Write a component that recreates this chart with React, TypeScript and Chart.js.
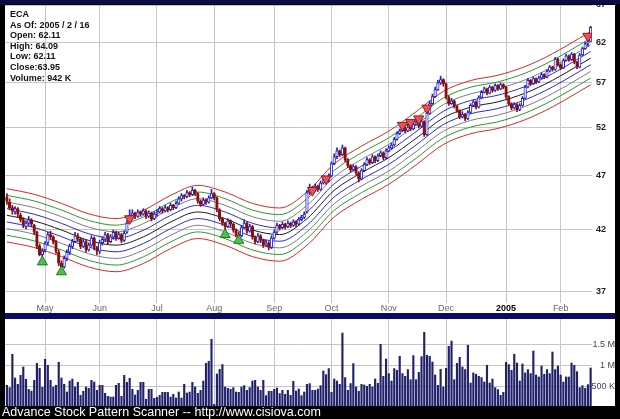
import React, { useEffect, useRef } from 'react';
import { Chart, registerables } from 'chart.js';

Chart.register(...registerables);

// ---- axis labels ----
const monthTickIdx = [14, 34, 55, 76, 98, 119, 140, 161, 183, 203];
const monthLabels = ['May', 'Jun', 'Jul', 'Aug', 'Sep', 'Oct', 'Nov', 'Dec', '2005', 'Feb'];
const priceTicks = [37, 42, 47, 52, 57, 62, 67];
const volumeTicks = [500, 1000, 1500];
const volumeTickLabels = ['500 K', '1 M', '1.5 M'];

// ---- daily OHLC (trading-day index 0..214) ----
const opens = [
  45.0,44.5,44.0,43.6,43.9,43.3,42.9,42.3,42.6,42.9,
  42.4,41.8,40.6,39.9,40.3,40.9,41.6,41.4,41.0,40.1,
  39.2,38.9,39.6,40.1,40.6,41.0,41.5,41.2,40.6,41.0,
  40.3,40.7,41.3,40.5,40.2,40.9,41.2,41.6,41.0,41.4,
  41.8,41.3,41.6,41.1,41.8,42.7,43.3,43.5,43.2,43.6,
  43.4,43.7,43.2,43.5,43.0,43.4,43.6,43.9,43.7,44.0,
  43.8,44.2,44.0,44.4,44.8,45.1,45.0,45.4,45.2,45.6,
  45.3,44.6,44.3,44.7,44.5,44.9,45.3,44.9,43.8,43.0,
  42.6,42.3,42.8,42.5,42.0,41.6,41.5,42.2,42.6,41.9,
  42.3,41.4,41.0,41.5,41.1,40.7,40.9,40.5,41.3,41.8,
  42.4,42.2,42.5,42.3,42.6,42.4,42.7,42.5,42.9,43.1,
  43.6,45.4,45.9,45.6,46.0,45.7,46.3,46.8,46.5,47.0,
  48.2,48.9,49.5,49.1,49.8,48.6,48.0,47.6,47.9,47.3,
  46.7,47.5,48.1,48.6,48.3,48.9,48.5,49.0,49.3,48.8,
  49.5,49.8,50.1,50.7,51.3,51.6,51.9,51.6,52.0,51.8,
  52.3,52.5,52.1,52.6,51.2,53.5,54.6,55.4,56.2,57.0,
  57.4,56.9,55.3,54.6,54.9,54.3,53.8,53.1,53.4,52.9,
  53.6,54.4,54.8,54.2,55.3,55.9,56.3,55.8,56.5,56.1,
  56.7,56.3,56.8,56.5,55.4,54.6,54.1,54.5,53.9,54.4,
  55.2,56.5,57.3,56.9,57.5,57.1,57.6,58.0,57.7,58.4,
  58.9,58.6,59.9,59.2,58.8,59.7,60.3,59.8,60.5,59.5,
  58.9,60.4,61.2,61.8,62.11,
];
const highs = [
  45.3,44.8,44.2,44.1,44.0,43.5,43.1,42.8,43.2,43.0,
  42.5,41.9,40.8,40.4,41.0,41.8,41.9,41.5,41.1,40.3,
  39.4,39.8,40.3,40.8,41.2,41.8,41.7,41.3,41.2,41.1,
  40.9,41.5,41.4,40.6,41.1,41.4,41.8,41.7,41.6,42.0,
  41.9,41.8,41.7,41.9,42.8,43.8,43.8,43.6,43.8,43.7,
  43.9,43.8,43.7,43.6,43.6,43.8,44.1,44.0,44.2,44.1,
  44.4,44.3,44.6,45.0,45.3,45.2,45.6,45.5,45.9,45.7,
  45.4,44.7,44.9,44.8,45.1,45.7,45.4,45.0,43.9,43.1,
  42.7,43.0,42.9,42.6,42.1,41.8,42.4,42.9,42.7,42.5,
  42.4,41.5,41.7,41.6,41.2,41.1,41.0,41.5,42.0,42.6,
  42.5,42.7,42.6,42.8,42.7,42.9,42.8,43.1,43.3,43.6,
  45.6,46.2,46.0,46.2,46.1,46.5,47.0,46.9,47.2,48.4,
  49.2,49.8,49.6,50.1,49.9,48.7,48.1,48.1,48.0,47.4,
  47.7,48.3,48.8,48.7,49.1,49.0,49.2,49.5,49.4,49.7,
  50.0,50.3,50.9,51.5,51.8,52.2,52.0,52.3,52.4,52.5,
  52.8,52.9,52.8,52.7,53.8,54.9,55.7,56.5,57.3,57.8,
  57.5,57.0,55.5,55.2,55.0,54.4,53.9,53.7,53.5,53.8,
  54.6,55.0,54.9,55.5,56.1,56.5,56.4,56.7,56.6,56.9,
  56.8,57.0,56.9,56.6,55.5,54.7,54.7,54.6,54.6,55.4,
  56.7,57.5,57.4,57.7,57.6,57.8,58.2,58.1,58.6,59.1,
  59.0,60.1,60.0,59.3,59.9,60.5,60.4,60.7,60.6,59.6,
  60.6,61.4,62.0,62.3,64.09,
];
const lows = [
  44.3,43.8,43.4,43.4,43.1,42.7,42.2,42.1,42.4,42.3,
  41.6,40.4,39.8,39.6,40.1,40.7,41.2,40.8,40.0,39.0,
  38.8,38.8,39.4,39.9,40.4,40.9,41.0,40.4,40.5,40.1,
  40.2,40.6,40.3,39.9,40.0,40.7,41.0,40.8,40.9,41.2,
  41.1,41.2,40.9,41.0,41.7,42.6,43.0,43.0,43.1,43.2,
  43.3,43.0,43.1,42.8,42.9,43.2,43.5,43.5,43.6,43.6,
  43.7,43.8,43.9,44.3,44.6,44.8,44.9,45.0,45.1,45.1,
  44.4,44.1,44.2,44.3,44.4,44.8,44.7,43.6,42.8,42.4,
  42.0,42.2,42.3,41.8,41.4,41.3,41.4,42.1,41.7,41.8,
  41.2,40.8,40.9,40.9,40.5,40.6,40.3,40.4,41.2,41.7,
  42.0,42.1,42.1,42.2,42.2,42.3,42.3,42.4,42.8,43.0,
  43.5,45.2,45.4,45.5,45.5,45.6,46.2,46.3,46.4,46.9,
  48.1,48.7,48.9,49.0,48.4,47.8,47.4,47.5,47.1,46.4,
  46.6,47.4,48.0,48.1,48.2,48.3,48.4,48.9,48.6,48.7,
  49.4,49.7,50.0,50.6,51.2,51.5,51.4,51.5,51.6,51.7,
  52.2,51.9,52.0,51.0,51.1,53.4,54.5,55.3,56.1,56.8,
  56.6,55.1,54.4,54.5,54.1,53.6,52.9,53.0,52.7,52.8,
  53.5,54.3,54.0,54.1,55.2,55.8,55.6,55.7,55.9,56.0,
  56.1,56.2,56.3,55.2,54.4,53.9,54.0,53.7,53.8,54.3,
  55.1,56.4,56.7,56.8,56.9,57.0,57.5,57.5,57.6,58.3,
  58.4,58.5,59.0,58.6,58.7,59.6,59.6,59.7,59.3,58.7,
  58.8,60.3,61.1,61.5,62.11,
];
const closes = [
  44.6,44.0,43.7,43.9,43.4,42.9,42.4,42.6,42.9,42.5,
  41.8,40.6,39.9,40.2,40.8,41.6,41.4,41.0,40.2,39.2,
  38.9,39.6,40.1,40.6,41.0,41.5,41.2,40.6,41.0,40.3,
  40.7,41.3,40.5,40.2,40.9,41.2,41.6,41.0,41.4,41.8,
  41.3,41.6,41.1,41.7,42.6,43.3,43.5,43.2,43.6,43.4,
  43.7,43.2,43.5,43.0,43.4,43.6,43.9,43.7,44.0,43.8,
  44.2,44.0,44.4,44.8,45.1,45.0,45.4,45.2,45.6,45.3,
  44.6,44.3,44.7,44.5,44.9,45.3,44.9,43.8,43.0,42.6,
  42.3,42.8,42.5,42.0,41.6,41.5,42.2,42.6,41.9,42.3,
  41.4,41.0,41.5,41.1,40.7,40.9,40.5,41.3,41.8,42.4,
  42.2,42.5,42.3,42.6,42.4,42.7,42.5,42.9,43.1,43.4,
  45.4,45.9,45.6,46.0,45.7,46.3,46.8,46.5,47.0,48.2,
  48.9,49.5,49.1,49.8,48.6,48.0,47.6,47.9,47.3,46.7,
  47.5,48.1,48.6,48.3,48.9,48.5,49.0,49.3,48.8,49.5,
  49.8,50.1,50.7,51.3,51.6,51.9,51.6,52.0,51.8,52.3,
  52.5,52.1,52.6,51.2,53.5,54.6,55.4,56.2,57.0,57.4,
  56.9,55.3,54.6,54.9,54.3,53.8,53.1,53.4,52.9,53.6,
  54.4,54.8,54.2,55.3,55.9,56.3,55.8,56.5,56.1,56.7,
  56.3,56.8,56.5,55.4,54.6,54.1,54.5,53.9,54.4,55.2,
  56.5,57.3,56.9,57.5,57.1,57.6,58.0,57.7,58.4,58.9,
  58.6,59.9,59.2,58.8,59.7,60.3,59.8,60.5,59.5,58.9,
  60.4,61.2,61.8,62.1,63.95,
];

// ---- daily volume, thousands of shares ----
const volumesK = [
  524,468,1273,700,548,765,966,669,427,386,
  645,1055,935,476,1152,1007,645,483,524,1080,
  700,548,362,628,676,483,596,283,379,483,
  450,645,604,403,524,524,331,258,241,241,
  524,572,258,765,596,693,427,290,403,596,
  596,186,427,427,210,234,283,355,355,355,
  241,307,217,362,217,548,338,362,596,483,
  331,403,628,1055,1104,1635,65,797,910,1024,
  483,450,427,468,362,355,483,517,403,468,
  628,645,483,403,645,275,379,379,427,459,
  324,403,307,403,283,620,386,435,275,362,
  548,565,403,403,435,515,870,782,927,355,
  676,628,548,1787,710,403,565,1048,483,379,
  548,532,500,548,483,676,572,1514,741,1159,
  807,628,927,887,1224,807,741,904,660,1241,
  660,839,1216,1804,1250,1224,1087,773,524,910,
  483,935,1465,1594,660,1055,1200,966,904,1490,
  580,823,790,741,710,604,1007,580,676,468,
  420,283,355,1080,1024,887,1273,1063,628,1040,
  823,904,807,1352,773,725,990,790,904,807,
  1328,904,990,773,604,725,725,1063,1007,855,
  468,515,450,540,942,
];

// ---- envelope centre line (read at sample days) ----
const bandCenterIdx = [0, 10, 20, 30, 40, 50, 60, 70, 80, 90, 100, 110, 120, 130, 140, 150, 160, 170, 180, 190, 200, 210, 214];
const bandCenter = [43.3, 42.8, 42.0, 41.1, 40.7, 41.4, 42.7, 43.6, 43.0, 42.0, 41.6, 43.0, 45.6, 47.3, 48.8, 50.8, 53.0, 54.2, 54.8, 55.8, 57.3, 59.2, 60.0];
const bandSteps = [4, 3, 2, 1, 0, -1, -2, -3, -4];
const bandStepLog = 0.0138;
const bandColors = ['#d22a2a', '#2a9a2a', '#7c7c7c', '#2a2ad0', '#1a1a1a', '#2a2ad0', '#7c7c7c', '#2a9a2a', '#d22a2a'];

// ---- signal markers ----
const buyIdx = [13, 20, 80, 85];
const buyPrice = [39.3, 38.5, 41.6, 41.1];
const sellIdx = [45, 112, 117, 145, 148, 151, 154, 213];
const sellPrice = [43.0, 45.6, 46.7, 52.2, 52.5, 52.9, 54.1, 62.8];

const infoLines = ['ECA', 'As Of: 2005 / 2 / 16', 'Open: 62.11', 'High: 64.09', 'Low: 62.11', 'Close:63.95', 'Volume: 942 K'];

const GRID = '#c6c6c6';
const UP = '#2424c4';
const DOWN = '#861010';
const FONT = 'Arial, "Liberation Sans", Helvetica, sans-serif';
const X_MIN = -0.7;
const X_MAX = 214.5;

export default function App() {
  const priceRef = useRef<HTMLCanvasElement>(null);
  const volRef = useRef<HTMLCanvasElement>(null);

  useEffect(() => {
    Chart.defaults.font.family = FONT;
    const idx = closes.map((_, i) => i);
    const isUp = idx.map((i) => closes[i] >= opens[i]);

    const bandSets = bandSteps.map((k, j) => ({
      type: 'line',
      data: bandCenterIdx.map((x, i) => ({ x, y: bandCenter[i] * Math.exp(k * bandStepLog) })),
      borderColor: bandColors[j],
      borderWidth: 1,
      pointRadius: 0,
      cubicInterpolationMode: 'monotone',
      fill: false,
      order: 10,
    }));

    const priceChart = new Chart(priceRef.current as HTMLCanvasElement, {
      type: 'bar',
      data: {
        datasets: [
          ...bandSets,
          {
            type: 'bar',
            data: idx.map((i) => ({ x: i, y: [lows[i], highs[i]] })),
            backgroundColor: idx.map((i) => (isUp[i] ? UP : DOWN)),
            barThickness: 1,
            grouped: false,
            order: 5,
          },
          {
            type: 'bar',
            data: idx.map((i) => ({ x: i, y: [opens[i], closes[i]] })),
            backgroundColor: idx.map((i) => (isUp[i] ? '#ffffff' : DOWN)),
            borderColor: idx.map((i) => (isUp[i] ? UP : DOWN)),
            borderWidth: 1,
            borderSkipped: false,
            barThickness: 2.6,
            grouped: false,
            order: 4,
          },
          {
            type: 'line',
            showLine: false,
            data: buyIdx.map((x, i) => ({ x, y: buyPrice[i] })),
            pointStyle: 'triangle',
            pointRadius: 5.8,
            pointBackgroundColor: '#4cc24c',
            pointBorderColor: '#1f7a1f',
            pointBorderWidth: 1,
            order: 1,
          },
          {
            type: 'line',
            showLine: false,
            data: sellIdx.map((x, i) => ({ x, y: sellPrice[i] })),
            pointStyle: 'triangle',
            pointRotation: 180,
            pointRadius: 5.8,
            pointBackgroundColor: '#e85454',
            pointBorderColor: '#9a1414',
            pointBorderWidth: 1,
            order: 1,
          },
        ] as any,
      },
      options: {
        animation: false,
        responsive: false,
        maintainAspectRatio: false,
        events: [],
        layout: { padding: 0, autoPadding: false },
        plugins: { legend: { display: false }, tooltip: { enabled: false } },
        scales: {
          x: {
            type: 'linear',
            min: X_MIN,
            max: X_MAX,
            offset: false,
            afterBuildTicks: (s: any) => {
              s.ticks = monthTickIdx.map((v) => ({ value: v }));
            },
            afterFit: (s: any) => {
              s.height = 15;
              s.paddingLeft = 0;
              s.paddingRight = 0;
            },
            ticks: {
              autoSkip: false,
              maxRotation: 0,
              padding: -10,
              callback: (_v: any, i: number) => monthLabels[i],
              font: (ctx: any) => (ctx.index === 8 ? { size: 9, weight: 'bold' } : { size: 9 }),
              color: (ctx: any) => (ctx.index === 8 ? '#000000' : '#666666'),
              showLabelBackdrop: true,
              backdropColor: '#ffffff',
              backdropPadding: { top: 0, bottom: 0, left: 1, right: 1 },
            },
            grid: { color: GRID, lineWidth: 1, tickLength: 15, drawTicks: true, offset: false },
            border: { display: false },
          },
          y: {
            type: 'logarithmic',
            position: 'right',
            min: 36.47,
            max: 67,
            afterBuildTicks: (s: any) => {
              s.ticks = priceTicks.map((v) => ({ value: v }));
            },
            afterFit: (s: any) => {
              s.width = 23;
              s.paddingTop = 0;
              s.paddingBottom = 0;
            },
            ticks: {
              padding: 4,
              font: { size: 9, weight: 'bold' },
              color: '#222222',
              callback: (v: any) => String(v),
            },
            grid: { color: GRID, lineWidth: 1, drawTicks: false },
            border: { display: false },
          },
        },
      } as any,
    });

    const volChart = new Chart(volRef.current as HTMLCanvasElement, {
      type: 'bar',
      data: {
        datasets: [
          {
            data: idx.map((i) => ({ x: i, y: volumesK[i] })),
            backgroundColor: '#22226c',
            barThickness: 1.5,
            grouped: false,
          },
        ] as any,
      },
      options: {
        animation: false,
        responsive: false,
        maintainAspectRatio: false,
        events: [],
        layout: { padding: 0, autoPadding: false },
        plugins: { legend: { display: false }, tooltip: { enabled: false } },
        scales: {
          x: {
            type: 'linear',
            min: X_MIN,
            max: X_MAX,
            offset: false,
            afterBuildTicks: (s: any) => {
              s.ticks = monthTickIdx.map((v) => ({ value: v }));
            },
            afterFit: (s: any) => {
              s.height = 0;
              s.paddingLeft = 0;
              s.paddingRight = 0;
            },
            ticks: { display: false },
            grid: { color: GRID, lineWidth: 1, drawTicks: false, offset: false },
            border: { display: false },
          },
          y: {
            type: 'linear',
            position: 'right',
            min: 0,
            max: 2125,
            afterBuildTicks: (s: any) => {
              s.ticks = volumeTicks.map((v) => ({ value: v }));
            },
            afterFit: (s: any) => {
              s.width = 23;
              s.paddingTop = 0;
              s.paddingBottom = 0;
            },
            ticks: {
              padding: -3,
              crossAlign: 'far',
              font: { size: 9 },
              color: '#444455',
              callback: (_v: any, i: number) => volumeTickLabels[i],
            },
            grid: { color: GRID, lineWidth: 1, drawTicks: false },
            border: { display: false },
          },
        },
      } as any,
    });

    return () => {
      priceChart.destroy();
      volChart.destroy();
    };
  }, []);

  return (
    <div
      style={{
        position: 'fixed',
        left: 0,
        top: 0,
        width: 620,
        height: 419,
        background: '#000000',
        overflow: 'hidden',
        fontFamily: FONT,
      }}
    >
      <div style={{ position: 'absolute', left: 5, top: 5, width: 610, height: 308, background: '#ffffff' }}>
        <canvas ref={priceRef} width={610} height={308} style={{ display: 'block', width: 610, height: 308 }} />
      </div>
      <div style={{ position: 'absolute', left: 0, top: 0, width: 620, height: 4, background: '#0b0b4c' }} />
      <div style={{ position: 'absolute', left: 5, top: 313, width: 610, height: 6, background: '#0b0b62' }} />
      <div style={{ position: 'absolute', left: 5, top: 319, width: 610, height: 88, background: '#ffffff' }}>
        <canvas ref={volRef} width={610} height={88} style={{ display: 'block', width: 610, height: 88 }} />
      </div>
      <div
        style={{
          position: 'absolute',
          left: 0,
          top: 406,
          width: 620,
          height: 13,
          background: '#000000',
          color: '#ffffff',
          fontSize: 12.5,
          lineHeight: '13px',
          paddingLeft: 2,
          whiteSpace: 'nowrap',
        }}
      >
        Advance Stock Pattern Scanner -- http://www.cisiova.com
      </div>
      <div
        style={{
          position: 'absolute',
          left: 10,
          top: 9,
          fontSize: 9,
          fontWeight: 'bold',
          lineHeight: '10.6px',
          color: '#111111',
          whiteSpace: 'nowrap',
        }}
      >
        {infoLines.map((t) => (
          <div key={t}>{t}</div>
        ))}
      </div>
    </div>
  );
}
